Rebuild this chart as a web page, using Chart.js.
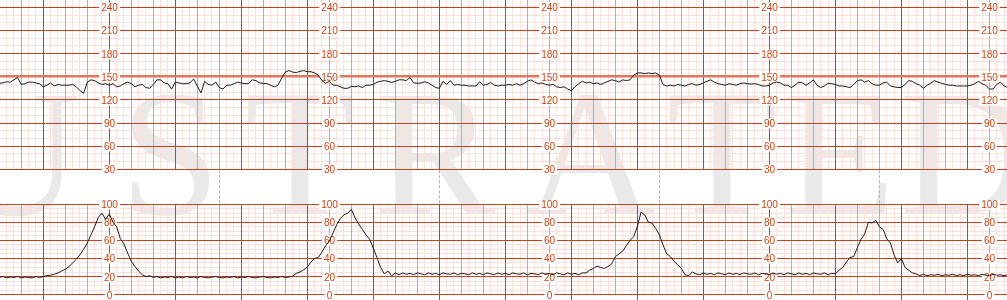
<!DOCTYPE html>
<html>
<head>
<meta charset="utf-8">
<script src="https://cdn.jsdelivr.net/npm/chart.js@4.4.1/dist/chart.umd.min.js"></script>
<style>
  html, body { margin: 0; padding: 0; background: #fff; }
  #strip { position: relative; width: 1007px; height: 300px; overflow: hidden; background: #fff; }
  .wm { position: absolute; top: 63px; width: 200px; text-align: center; font-family: "Liberation Serif", serif; font-size: 181px; line-height: 1; color: #e9e9e9; }
  .box { position: absolute; left: 0; width: 1007px; }
  canvas { display: block; }
</style>
</head>
<body>
<div id="strip">
  <div id="wm"></div>
  <div class="box" style="top:0;height:204px"><canvas id="fhr" width="1007" height="204"></canvas></div>
  <div class="box" style="top:200px;height:100px"><canvas id="toco" width="1007" height="100"></canvas></div>
</div>
<script>
// time axis in grid units (1 unit = one light column, 9 units = one dark column)
const X_MIN = -5.9, X_MAX = 131.4;
const SAMPLE_START = -6, SAMPLE_STEP = 0.5;

// fetal heart rate, bpm
const fhrValues = [
  141.5,142,143.5,143,146,149,140,141,143,143,
  142,141,137,139,142,138,140,139,139,139,
  140,137,132,128.5,143,146,145,142,140,141,
  139,141,137,138,141,143,141,137,139,140,
  136,135,140,146,146,142,141,134,143,142,
  141,141,142,147,138,129,144,140,139,143,
  136,134,139,139,141,143,142,141,141,146,
  145,142,141.5,141,139,137,139,148,156,158,
  156,155.5,157,158,156.5,156.5,155,152,145,141.5,
  144,139,139,137,135,135,137.5,137,138,136,
  139,139,140,143,144,145,144,142.5,144,146,
  146,145,149,142,141.5,142,143.5,142,139,136,
  135,144,140,145,139,140,139,139,138,138,
  138,143.5,139,140,142.5,139,138,139,139,140,
  139,141,139,141,144,146,143,141,142,140,
  139,140,137,136,137,134,132,137,141,144,
  142,143,141,142,140,142,144,146,145,143,
  146,145,146,152,155,155,154,155,154,155,
  152,140,138,139,138,140,139,138,140,141,
  139,140,142,144,146,143,141,140,139,141,
  140,139,141,142,141,140.6,141,140,138,138,
  139,142,143,142,139,139,136,139,143,142,
  139,142,146,139,136,138,141.5,141,140,138,
  138,137,136,140,145,146,143,145,141,139,
  139,142,143,138,137,136,136,140,145,144,
  141,139,135,139,141.5,145,143,141.5,140,139,
  139,138,138,138,138,139,141,144,141,139,
  134,134,140,143,138,136
];

// uterine activity (toco), 0-100
const tocoValues = [
  19,20,18.5,19.5,19,20,18.5,19.5,19,18.5,
  20,19,20,21,21.5,22.5,24,26,28,31,
  35,39,44,50,57,66,75,85,90,83,
  89,80,75,62,56,46,37,31,26,22,
  20,21,19,20,18.5,19.5,19,20,18.5,19.5,
  18.5,20,19,19.5,18.5,20,19,18.5,19.5,20,
  19,18.5,19.5,19,20,18.5,19.5,19,20,19,
  18.5,19.5,20,19,18.5,19.5,19,20,19,19.5,
  20.5,23.5,25,27.5,30.5,36,40,41,47,54,
  59,68,77,84,88,90,94,85,78,72,
  66,61,51,41,30,23,26,21,24,22,
  24,22.5,23.5,22,24,23,22,24,22.5,23.5,
  22,24,23,22.5,24,22,23.5,23,22,24,
  22.5,23.5,22,24,23,22,24,22.5,23.5,22,
  24,23,22.5,24,22,23.5,23,22,24,22.5,
  23.5,22,24,23,22,24,22.5,23.5,22,24,
  24,27,29,31.5,30,29,31,34,42,45,
  48,54,60,64,75,91,88,80,79,73,
  66,55,45,42,37,33,29,22,21,25,
  23,22,24,22.5,23.5,22,24,23,22,24,
  22.5,23.5,22,24,23,22.5,24,22,23.5,23,
  22,24,22.5,23.5,22,24,23,22,24,22.5,
  23.5,22,24,23,22.5,24,22,23.5,23,
  27,30,36,41,42,52,61,67,80,79,82,
  75,72,62,57,44,35,40,30,27,24,23,
  21,22.5,21,22,21.5,22.5,21,22,21.5,22.5,
  21,22,21,22.5,21.5,22,21,22.5,21.5,21,
  22.5,21.5,22,21,22
];

const fhrLabels = [240, 210, 180, 150, 120, 90, 60, 30];
const tocoLabels = [100, 80, 60, 40, 20, 0];
const labelColumns = [9, 39, 69, 99, 129];
const markerColumns = [24, 54, 84, 114];
const watermark = [['U', 15], ['S', 170], ['T', 300], ['R', 435], ['A', 590], ['T', 722], ['E', 840], ['D', 965]];

const DARK = '#c9401c';
const MED = '#e69c88';
const LIGHT = '#fde0d7';
const BAND = '#e2775c';
const LABEL = '#d4400e';
const TRACE = '#1c1c1c';

const wm = document.getElementById('wm');
watermark.forEach(([ch, cx]) => {
  const s = document.createElement('span');
  s.className = 'wm';
  s.style.left = (cx - 100) + 'px';
  s.textContent = ch;
  wm.appendChild(s);
});

function range(a, b, step) {
  const out = [];
  for (let v = a; v <= b + 1e-9; v += step) out.push(Math.round(v * 100) / 100);
  return out;
}

function toPoints(values) {
  return values.map((v, i) => ({ x: SAMPLE_START + i * SAMPLE_STEP, y: v }));
}

// one scale per grid colour so every line keeps a plain colour
function gridScale(axis, min, max, values, color, z, width) {
  return {
    type: 'linear',
    axis: axis,
    position: axis === 'x' ? 'bottom' : 'left',
    min: min,
    max: max,
    ticks: { display: false },
    border: { display: false },
    grid: { color: color, lineWidth: width || 1, drawTicks: false, z: z },
    afterBuildTicks: s => { s.ticks = values.map(v => ({ value: v })); },
    afterFit: s => { if (axis === 'x') s.height = 0; else s.width = 0; }
  };
}

const xLightTicks = range(-5, 131, 1).filter(v => v % 3 !== 0);
const xMedTicks = range(-3, 129, 3).filter(v => v % 9 !== 0);
const xDarkTicks = range(0, 126, 9);

const columnLabels = {
  id: 'columnLabels',
  beforeDatasetsDraw(chart, args, opts) {
    const { ctx } = chart;
    const xs = chart.scales.x, ys = chart.scales.y;
    ctx.save();
    ctx.font = '10px "Liberation Sans", Arial, sans-serif';
    ctx.textAlign = 'center';
    ctx.textBaseline = 'middle';
    labelColumns.forEach(u => {
      const px = Math.round(xs.getPixelForValue(u)) + 0.5;
      opts.values.forEach(v => {
        const py = Math.round(ys.getPixelForValue(v)) + 0.5;
        const t = String(v);
        const w = ctx.measureText(t).width;
        ctx.fillStyle = '#fff';
        ctx.fillRect(px - w / 2 - 2, py - 5, w + 4, 10);
        ctx.fillStyle = LABEL;
        ctx.fillText(t, px, py + 0.5);
      });
    });
    ctx.restore();
  }
};

const gapMarkers = {
  id: 'gapMarkers',
  afterDraw(chart, args, opts) {
    if (!opts.show) return;
    const { ctx, chartArea } = chart;
    const xs = chart.scales.x;
    ctx.save();
    ctx.strokeStyle = MED;
    ctx.lineWidth = 1;
    ctx.setLineDash([3, 2]);
    markerColumns.forEach(u => {
      const px = Math.round(xs.getPixelForValue(u)) + 0.5;
      ctx.beginPath();
      ctx.moveTo(px, chartArea.bottom + 1);
      ctx.lineTo(px, chart.height);
      ctx.stroke();
    });
    ctx.restore();
  }
};

function traceDataset(values) {
  return {
    data: toPoints(values),
    borderColor: TRACE,
    borderWidth: 1,
    pointRadius: 0,
    tension: 0,
    fill: false
  };
}

new Chart(document.getElementById('fhr'), {
  type: 'line',
  data: { datasets: [traceDataset(fhrValues)] },
  options: {
    responsive: false,
    animation: false,
    events: [],
    layout: { padding: { top: 0, bottom: 34.7, left: 0, right: 0 } },
    plugins: {
      legend: { display: false },
      tooltip: { enabled: false },
      columnLabels: { values: fhrLabels },
      gapMarkers: { show: true }
    },
    scales: {
      x: gridScale('x', X_MIN, X_MAX, xLightTicks, LIGHT, -6),
      y: gridScale('y', 30, 249.5, range(40, 240, 10).filter(v => v % 30 !== 0), LIGHT, -5),
      xMed: gridScale('x', X_MIN, X_MAX, xMedTicks, MED, -4),
      xDark: gridScale('x', X_MIN, X_MAX, xDarkTicks, DARK, -3),
      yDark: gridScale('y', 30, 249.5, fhrLabels.filter(v => v !== 150), DARK, -2),
      yBand: gridScale('y', 30, 249.5, [150], BAND, -1, 2.5)
    }
  },
  plugins: [columnLabels, gapMarkers]
});

const tocoDark = gridScale('x', X_MIN, X_MAX, xDarkTicks, DARK, -3);
tocoDark.grid.drawTicks = true;
tocoDark.grid.tickLength = 5.3;
tocoDark.grid.tickColor = DARK;
tocoDark.afterFit = s => { s.height = 5.3; };

new Chart(document.getElementById('toco'), {
  type: 'line',
  data: { datasets: [traceDataset(tocoValues)] },
  options: {
    responsive: false,
    animation: false,
    events: [],
    layout: { padding: { top: 4, bottom: 0, left: 0, right: 0 } },
    plugins: {
      legend: { display: false },
      tooltip: { enabled: false },
      columnLabels: { values: tocoLabels },
      gapMarkers: { show: false }
    },
    scales: {
      x: gridScale('x', X_MIN, X_MAX, xLightTicks, LIGHT, -6),
      y: gridScale('y', 0, 100, range(5, 95, 5).filter(v => v % 20 !== 0), LIGHT, -5),
      xMed: gridScale('x', X_MIN, X_MAX, xMedTicks, MED, -4),
      xDark: tocoDark,
      yDark: gridScale('y', 0, 100, tocoLabels, DARK, -2)
    }
  },
  plugins: [columnLabels, gapMarkers]
});
</script>
</body>
</html>
